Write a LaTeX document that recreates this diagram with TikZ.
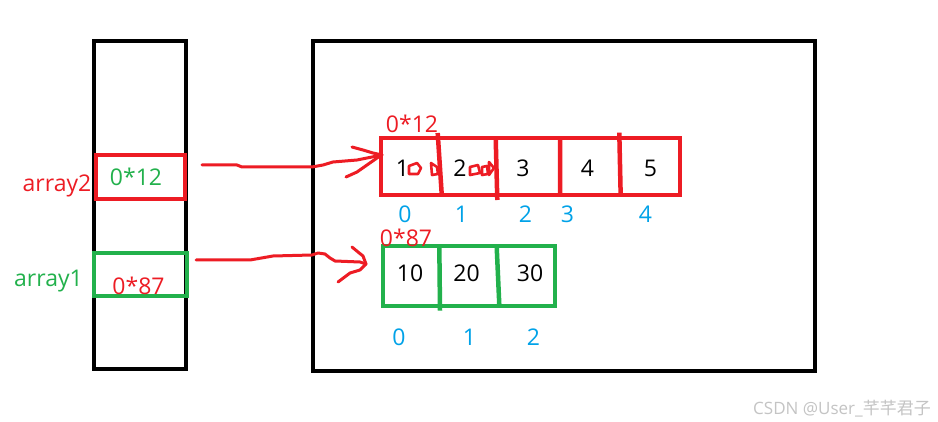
\documentclass[tikz,border=0pt]{standalone}
\usepackage{fontspec}
\setmainfont{Open Sans}
\newfontfamily\cjk{Noto Sans CJK SC}
\definecolor{pred}{HTML}{ED1C24}
\definecolor{pgreen}{HTML}{22B14C}
\definecolor{pblue}{HTML}{00A2E8}
\definecolor{wmark}{HTML}{C4C4C4}
\begin{document}
\begin{tikzpicture}[x=1pt,y=-1pt,
    txt/.style={font=\fontsize{23}{23}\selectfont,inner sep=0pt,anchor=base},
    frame/.style={draw=black,line width=4.5pt},
    hand/.style={draw=pred,line width=3pt,line cap=round,line join=round},
    doodle/.style={draw=pred,line width=2.6pt,line join=round}]
    \useasboundingbox[fill=white] (0,0) rectangle (938,422);
    % stack and heap
    \draw[frame] (94,41) rectangle (186,369);
    \draw[frame] (313,41) rectangle (815,371);
    % pointer boxes
    \node[draw=pred,line width=4.5pt,minimum width=89pt,minimum height=44pt,inner sep=0pt] (ptrtwo) at (140.5,177) {};
    \node[draw=pgreen,line width=4.5pt,minimum width=93pt,minimum height=43pt,inner sep=0pt] (ptrone) at (140.5,274.5) {};
    \node[txt,pred] (nametwo) at (57,192) {array2};
    \node[txt,pgreen] (nameone) at (48.5,287) {array1};
    \node[txt,pgreen] (addrtwo) at (136,186) {0*12};
    \node[txt,pred] (addrone) at (138.5,295) {0*87};
    % array2 on the heap
    \draw[pred,line width=4.5pt] (381,138) rectangle (680,195);
    \draw[pred,line width=4.5pt] (437.7,133) -- (441.7,194) (495.7,138) -- (497.3,200)
        (560,138) -- (560,195) (619.3,132.7) -- (620.7,196.7);
    \node[txt,pred] (headtwo) at (412,133) {0*12};
    \foreach \x/\v in {402.5/1,460/2,523/3,587.5/4,650.5/5}
        \node[txt] (two\v) at (\x,177) {\v};
    \foreach \x/\k in {405/0,461.5/1,525.5/2,567.5/3,645.5/4}
        \node[txt,pblue] (idxtwo\k) at (\x,223) {\k};
    % array1 on the heap
    \draw[pgreen,line width=4.5pt] (383,246) rectangle (555,306);
    \draw[pgreen,line width=4.5pt] (439.3,245) -- (440,310.7) (496.7,246.7) -- (499.3,305);
    \node[txt,pred] (headone) at (406,247) {0*87};
    \foreach \x/\v in {410/10,466.5/20,530/30}
        \node[txt] (one\v) at (\x,282) {\v};
    \foreach \x/\k in {399/0,469.5/1,533.5/2}
        \node[txt,pblue] (idxone\k) at (\x,345) {\k};
    % scribbles in the cells
    \draw[doodle] (409,166) -- (417,163) -- (421,168) -- (418,174) -- (409,174) -- cycle;
    \draw[doodle] (431,163) -- (437,167) -- (438,174) -- (432,175) -- cycle;
    \draw[doodle] (470,167) -- (478,165) -- (480,173) -- (470,175) -- cycle;
    \draw[doodle] (482,167) -- (487,166) -- (488,174) -- (482,175) -- cycle;
    \draw[doodle] (489,162) -- (494,168) -- (489,175) -- cycle;
    % hand drawn arrows
    \coordinate (fromtwo) at (202,165);
    \coordinate (totwo) at (382,155);
    \coordinate (fromone) at (196,260);
    \coordinate (toone) at (366,264);
    \draw[hand] (fromtwo) -- (237,165) -- (242,167) -- (312,167) -- (323,165) -- (333,162)
        -- (357,160) -- (totwo);
    \draw[hand] (352,147) -- (363,150) -- (373,153) -- (totwo);
    \draw[hand] (346,177) -- (357,172) -- (367,165) -- (377,158) -- (totwo);
    \draw[hand] (fromone) -- (250,260) -- (273,256) -- (312,255) -- (318,253) -- (325,254)
        -- (330,258) -- (335,261) -- (360,262) -- (toone);
    \draw[hand] (352,247) -- (358,252) -- (363,256) -- (toone);
    \draw[hand] (338,282) -- (350,273) -- (360,270) -- (toone);
    % watermark
    \node[wmark,font=\fontsize{17}{17}\selectfont,inner sep=0pt,anchor=base] (mark) at (842,414) {CSDN @User\_{\cjk 芊芊君子}};
\end{tikzpicture}
\end{document}
